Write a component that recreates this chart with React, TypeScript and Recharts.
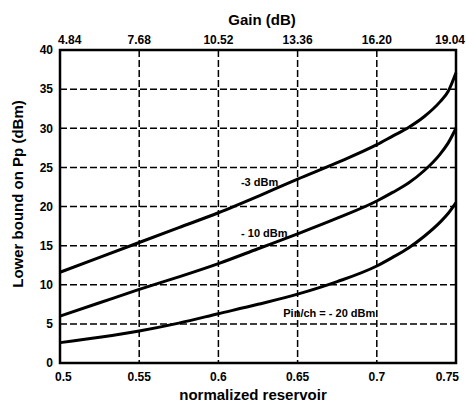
import React from 'react';
import { LineChart, Line, XAxis, YAxis, CartesianGrid, ReferenceArea, ReferenceDot, Label } from 'recharts';

const reservoir = [0.5, 0.525, 0.55, 0.575, 0.6, 0.625, 0.65, 0.675, 0.7, 0.71, 0.72, 0.73, 0.74, 0.745, 0.75];
const pin3 = [11.6, 13.5, 15.4, 17.3, 19.2, 21.3, 23.5, 25.6, 27.9, 29.0, 30.1, 31.5, 33.4, 34.7, 37.1];
const pin10 = [6.0, 7.7, 9.4, 11.0, 12.7, 14.6, 16.5, 18.5, 20.7, 21.8, 23.0, 24.6, 26.7, 28.1, 30.0];
const pin20 = [2.6, 3.3, 4.1, 5.1, 6.3, 7.5, 8.8, 10.4, 12.4, 13.5, 14.7, 16.2, 18.0, 19.1, 20.5];

const xTicks = [0.5, 0.55, 0.6, 0.65, 0.7, 0.75];
const xTickLabels = ['0.5', '0.55', '0.6', '0.65', '0.7', '0.75'];
const gainTickLabels = ['4.84', '7.68', '10.52', '13.36', '16.20', '19.04'];
const yTicks = [0, 5, 10, 15, 20, 25, 30, 35, 40];

const data = reservoir.map((r, i) => ({ r, a: pin3[i], b: pin10[i], c: pin20[i] }));

const FONT = '"Liberation Sans", Arial, sans-serif';
const tickStyle = { fontFamily: FONT, fontSize: 12, fontWeight: 700, fill: '#000' };
const titleStyle = { fontFamily: FONT, fontSize: 15, fontWeight: 700, fill: '#000' };

const idxOf = (v: number) => xTicks.findIndex((t) => Math.abs(t - v) < 1e-6);

function BottomTick(props: any) {
  const { x, y, payload } = props;
  const i = idxOf(payload.value);
  const last = i === xTicks.length - 1;
  const first = i === 0;
  return (
    <text
      x={first ? x - 5 : last ? x + 3 : x}
      y={y + 12}
      textAnchor={first ? 'start' : last ? 'end' : 'middle'}
      style={tickStyle}
    >
      {xTickLabels[i]}
    </text>
  );
}

function TopTick(props: any) {
  const { x, y, payload } = props;
  const i = idxOf(payload.value);
  const last = i === xTicks.length - 1;
  const first = i === 0;
  return (
    <text
      x={first ? x - 2 : last ? x + 9 : x}
      y={y}
      textAnchor={first ? 'start' : last ? 'end' : 'middle'}
      style={tickStyle}
    >
      {gainTickLabels[i]}
    </text>
  );
}

export default function App() {
  return (
    <div style={{ position: 'absolute', left: 0, top: 0, background: '#fff' }}>
      <LineChart width={466} height={403} data={data} margin={{ top: 0, right: 10, bottom: 0, left: 0 }}>
        <CartesianGrid stroke="#000" strokeWidth={1.5} strokeDasharray="7 3" />
        <XAxis
          dataKey="r"
          type="number"
          domain={[0.5, 0.75]}
          ticks={xTicks}
          tick={<BottomTick />}
          tickLine={false}
          axisLine={false}
          tickSize={4}
          height={40}
          interval={0}
        >
          <Label
            content={() => (
              <text x={253} y={400} textAnchor="middle" style={titleStyle}>
                normalized reservoir
              </text>
            )}
          />
        </XAxis>
        <XAxis
          xAxisId="top"
          dataKey="r"
          type="number"
          orientation="top"
          domain={[0.5, 0.75]}
          ticks={xTicks}
          tick={<TopTick />}
          tickLine={false}
          axisLine={false}
          tickSize={4}
          height={50}
          interval={0}
        >
          <Label
            content={() => (
              <text x={262} y={25} textAnchor="middle" style={titleStyle}>
                Gain (dB)
              </text>
            )}
          />
        </XAxis>
        <YAxis
          type="number"
          domain={[0, 40]}
          ticks={yTicks}
          tick={tickStyle}
          tickLine={false}
          axisLine={false}
          tickSize={5}
          width={60}
          interval={0}
        >
          <Label
            content={() => (
              <text transform="translate(23,194) rotate(-90)" x={0} y={0} textAnchor="middle" style={titleStyle}>
                Lower bound on Pp (dBm)
              </text>
            )}
          />
        </YAxis>
        <ReferenceArea x1={0.5} x2={0.75} y1={0} y2={40} fill="none" stroke="#000" strokeWidth={2.5} ifOverflow="visible" />
        <Line type="monotone" dataKey="a" stroke="#000" strokeWidth={3} dot={false} isAnimationActive={false} />
        <Line type="monotone" dataKey="b" stroke="#000" strokeWidth={3} dot={false} isAnimationActive={false} />
        <Line type="monotone" dataKey="c" stroke="#000" strokeWidth={3} dot={false} isAnimationActive={false} />
        <ReferenceDot x={0.626} y={23.1} r={0} fill="none" stroke="none" label={{ value: '-3 dBm', position: 'center', style: { fontFamily: FONT, fontSize: 11, fontWeight: 700, fill: '#000' } }} />
        <ReferenceDot x={0.629} y={16.6} r={0} fill="none" stroke="none" label={{ value: '- 10 dBm', position: 'center', style: { fontFamily: FONT, fontSize: 11, fontWeight: 700, fill: '#000' } }} />
        <ReferenceDot x={0.670} y={6.4} r={0} fill="none" stroke="none" label={{ value: 'Pin/ch = - 20 dBm', position: 'center', style: { fontFamily: FONT, fontSize: 11, fontWeight: 700, fill: '#000' } }} />
      </LineChart>
    </div>
  );
}
